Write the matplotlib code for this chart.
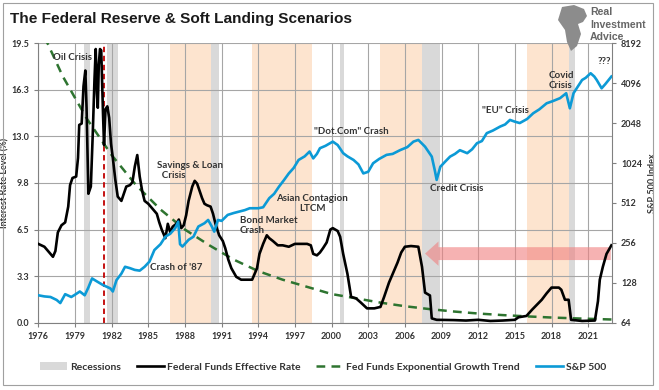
import matplotlib
matplotlib.use("Agg")
import matplotlib.pyplot as plt
from matplotlib.patches import Patch, FancyArrow, Polygon, Rectangle
from matplotlib.lines import Line2D
import numpy as np

# ---- data (x in chart years) ----
recessions = [(1979.7, 1980.2), (1981.6, 1982.5), (1990.1, 1990.8),
              (2000.7, 2001.0), (2007.4, 2008.9), (2019.4, 2019.9)]
tightening = [(1986.8, 1990.1), (1993.5, 1998.4), (2004.0, 2007.4), (2016.0, 2019.4)]

ff_years = [1976.0, 1976.5, 1976.9, 1977.2, 1977.4, 1977.6, 1977.9, 1978.2, 1978.45, 1978.6,
            1978.8, 1979.1, 1979.25, 1979.35, 1979.55, 1979.7, 1979.85, 1979.95, 1980.1, 1980.3,
            1980.45, 1980.6, 1980.7, 1980.8, 1980.87, 1980.95, 1981.05, 1981.15, 1981.3, 1981.38,
            1981.5, 1981.65, 1981.8, 1981.95, 1982.1, 1982.3, 1982.5, 1982.8, 1983.0, 1983.2,
            1983.5, 1983.7, 1983.9, 1984.1, 1984.3, 1984.5, 1984.7, 1985.0, 1985.3, 1985.7,
            1985.9, 1986.1, 1986.4, 1986.6, 1986.8, 1987.0, 1987.3, 1987.5, 1987.7, 1987.9,
            1988.1, 1988.3, 1988.6, 1988.8, 1989.0, 1989.2, 1989.4, 1989.6, 1989.8, 1990.1,
            1990.3, 1990.5, 1990.8, 1991.1, 1991.3, 1991.55, 1991.8, 1992.0, 1992.2, 1992.6,
            1993.0, 1993.5, 1993.7, 1993.9, 1994.1, 1994.4, 1994.7, 1994.9, 1995.2, 1995.6,
            1996.0, 1996.5, 1997.0, 1997.5, 1998.0, 1998.3, 1998.5, 1998.8, 1999.05, 1999.3,
            1999.6, 1999.9, 2000.1, 2000.5, 2000.7, 2000.95, 2001.3, 2001.6, 2002.0, 2002.4,
            2002.9, 2003.5, 2004.0, 2004.3, 2004.7, 2005.0, 2005.4, 2005.7, 2006.0, 2006.5,
            2007.1, 2007.4, 2007.65, 2008.05, 2008.2, 2008.6, 2010.0, 2011.0, 2012.0, 2013.0,
            2014.0, 2015.0, 2015.3, 2015.95, 2016.4, 2016.8, 2017.2, 2017.6, 2018.0, 2018.6,
            2018.8, 2019.1, 2019.4, 2019.6, 2020.5, 2021.55, 2021.8, 2021.95, 2022.2, 2022.5,
            2022.9]
ff_rate = [5.5, 5.3, 4.9, 4.6, 5.0, 6.3, 6.8, 7.0, 8.1, 9.6,
           10.1, 10.2, 11.5, 13.8, 13.9, 16.5, 17.6, 15.0, 9.0, 9.5,
           13.0, 17.0, 19.1, 16.0, 15.0, 18.0, 19.1, 19.0, 14.5, 12.4,
           14.9, 15.1, 14.3, 12.5, 11.5, 10.0, 8.8, 8.5, 9.0, 9.5,
           9.6, 9.8, 10.9, 11.7, 10.2, 9.2, 8.5, 8.3, 8.0, 7.6,
           7.0, 6.5, 5.9, 6.9, 6.3, 6.7, 6.9, 7.2, 6.6, 6.8,
           7.5, 8.5, 9.5, 9.9, 9.7, 9.2, 8.7, 8.3, 8.2, 8.1,
           7.6, 6.9, 6.1, 5.7, 5.2, 4.4, 3.8, 3.5, 3.2, 3.0,
           3.0, 3.0, 3.4, 3.8, 4.8, 5.5, 6.1, 5.9, 5.7, 5.4,
           5.4, 5.3, 5.5, 5.5, 5.5, 5.4, 4.8, 4.7, 4.9, 5.2,
           5.6, 6.5, 6.6, 6.4, 6.0, 4.8, 3.4, 1.8, 1.7, 1.4,
           1.0, 1.0, 1.1, 1.8, 2.8, 3.4, 4.2, 4.9, 5.3, 5.35,
           5.3, 3.9, 2.1, 1.9, 0.3, 0.2, 0.18, 0.15, 0.2, 0.12,
           0.15, 0.2, 0.38, 0.47, 0.9, 1.25, 1.6, 2.05, 2.45, 2.45,
           2.3, 1.6, 1.6, 0.2, 0.12, 0.15, 1.5, 3.0, 3.9, 4.8,
           5.4]

trend_years = [1976, 1978, 1980, 1982, 1984, 1986, 1988, 1990, 1992, 1994, 1996, 1998,
               2000, 2002, 2004, 2006, 2008, 2010, 2012, 2014, 2016, 2018, 2020, 2023]
trend_rate = [20.9, 17.2, 14.2, 11.7, 9.6, 7.9, 6.5, 5.4, 4.4, 3.6, 3.0, 2.5,
              2.0, 1.7, 1.4, 1.15, 0.95, 0.78, 0.64, 0.53, 0.44, 0.36, 0.30, 0.22]

spx_years = [1976.0, 1976.5, 1977.0, 1977.5, 1977.8, 1978.2, 1978.7, 1979.0, 1979.4, 1979.8,
             1980.1, 1980.4, 1980.8, 1981.3, 1981.9, 1982.1, 1982.4, 1982.8, 1983.1, 1983.5,
             1983.9, 1984.3, 1984.7, 1985.1, 1985.5, 1986.0, 1986.4, 1986.8, 1987.2, 1987.45,
             1987.6, 1987.8, 1988.3, 1988.7, 1989.1, 1989.6, 1989.9, 1990.2, 1990.4, 1990.7,
             1991.0, 1991.5, 1992.0, 1992.9, 1993.3, 1994.0, 1994.4, 1994.9, 1995.3, 1995.7,
             1996.1, 1996.5, 1996.9, 1997.3, 1997.8, 1998.2, 1998.5, 1998.8, 1999.05, 1999.5,
             2000.1, 2000.5, 2000.95, 2001.3, 2001.8, 2002.2, 2002.6, 2003.0, 2003.4, 2003.9,
             2004.5, 2005.0, 2005.6, 2006.2, 2006.7, 2007.1, 2007.65, 2008.2, 2008.45, 2008.6,
             2008.9, 2009.3, 2009.7, 2010.1, 2010.5, 2011.1, 2011.5, 2011.9, 2012.3, 2012.7,
             2013.2, 2013.8, 2014.2, 2014.6, 2015.0, 2015.4, 2016.0, 2016.5, 2017.0, 2017.6,
             2018.1, 2018.7, 2019.2, 2019.5, 2019.8, 2020.1, 2020.5, 2020.8, 2021.2, 2021.5,
             2021.7, 2022.1, 2022.4, 2022.9]
spx = [103, 101, 100, 95, 90, 105, 100, 104, 110, 103,
       118, 138, 131, 123, 116, 110, 134, 150, 169, 165,
       160, 158, 169, 185, 226, 250, 285, 300, 330, 370,
       250, 240, 270, 285, 340, 360, 381, 340, 311, 381,
       375, 416, 430, 452, 467, 467, 475, 556, 600, 680,
       760, 855, 940, 1080, 1150, 1250, 1110, 1200, 1325, 1380,
       1485, 1400, 1215, 1150, 1080, 1000, 855, 880, 1020, 1100,
       1180, 1200, 1280, 1350, 1485, 1530, 1360, 1145, 900, 764,
       960, 1050, 1145, 1200, 1280, 1215, 1300, 1445, 1500, 1720,
       1800, 1930, 2000, 2165, 2100, 2050, 2200, 2430, 2600, 2890,
       3000, 3160, 3440, 2650, 3440, 3800, 4330, 4500, 4870, 4600,
       4330, 3750, 4030, 4600]

x_ticks = list(range(1976, 2022, 3))
rate_ticks = [0, 3.25, 6.5, 9.75, 13.0, 16.25, 19.5]
rate_labels = ["0.0", "3.3", "6.5", "9.8", "13.0", "16.3", "19.5"]
spx_ticks = [64, 128, 256, 512, 1024, 2048, 4096, 8192]

notes = [("Oil Crisis", 1977.2, 18.5, "left"),
         ("Savings & Loan\n  Crisis", 1985.7, 10.6, "left"),
         ("Crash of '87", 1985.15, 3.88, "left"),
         ("Bond Market\nCrash", 1992.5, 6.8, "left"),
         ("Asian Contagion\nLTCM", 1998.4, 8.3, "center"),
         ("\"Dot.Com\" Crash", 2001.6, 13.35, "center"),
         ("Credit Crisis", 2010.2, 9.4, "center"),
         ("\"EU\" Crisis", 2014.2, 14.8, "center"),
         ("Covid\nCrisis", 2017.8, 16.9, "left"),
         ("???", 2022.3, 18.25, "center")]

txt = "#333333"
nf = "Lato"

fig = plt.figure(figsize=(6.59, 3.90), dpi=100)
fig.patch.set_facecolor("white")
fig.add_artist(Rectangle((3 / 659, 1 - 385 / 390), 650 / 659, 382 / 390, transform=fig.transFigure,
                         fill=False, edgecolor="#a0a0a0", lw=0.8))

ax = fig.add_axes([0.0581, 0.1726, 0.8706, 0.7164])
ax.set_axisbelow(True)

for a, b in recessions:
    ax.axvspan(a, b, color="#d9d9d9", lw=0, zorder=0.2)
for a, b in tightening:
    ax.axvspan(a, b, color="#fde4cf", lw=0, zorder=0.2)

ax.grid(True, color="#a6a6a6", lw=0.8)
ax.axvline(1981.4, color="#c00000", lw=1.3, ls=(0, (3, 2)), zorder=2)

ax.plot(trend_years, trend_rate, color="#2e7430", lw=1.8, ls=(0, (3.5, 2.5)), zorder=3)
ax.plot(ff_years, ff_rate, color="black", lw=1.9, zorder=4)

ax.add_patch(FancyArrow(2022.85, 4.82, -15.2, 0, width=0.9, head_width=1.7, head_length=1.1,
                        length_includes_head=True, color="#f08080", alpha=0.6, lw=0, zorder=3.5))

ax.set_xlim(1976, 2022.95)
ax.set_ylim(0, 19.5)
ax.set_xticks(x_ticks)
ax.set_xticklabels([str(y) for y in x_ticks])
ax.set_yticks(rate_ticks)
ax.set_yticklabels(rate_labels)
ax.set_ylabel("Interest Rate Level (%)", fontsize=6.5, fontweight="bold", color=txt, family=nf)
ax.yaxis.set_label_coords(-0.05, 0.5)
for s in ["top", "right"]:
    ax.spines[s].set_visible(False)
for s in ["left", "bottom"]:
    ax.spines[s].set_color("#808080")
ax.tick_params(colors="#808080", labelcolor=txt, labelsize=6.5, length=3)
for lab in ax.get_xticklabels() + ax.get_yticklabels():
    lab.set_fontweight("bold")
    lab.set_family(nf)

for s, x, y, ha in notes:
    ax.text(x, y, s, ha=ha, va="center", fontsize=7, fontweight="bold", color=txt,
            family=nf, zorder=6, linespacing=1.1)

ax2 = ax.twinx()
ax2.set_yscale("log", base=2)
ax2.plot(spx_years, spx, color="#0c9ad6", lw=1.9, zorder=5)
ax2.set_ylim(64, 8192)
ax2.set_yticks(spx_ticks)
ax2.set_yticklabels([str(v) for v in spx_ticks])
ax2.minorticks_off()
ax2.set_ylabel("S&P 500 Index", fontsize=6.5, fontweight="bold", color=txt, family=nf)
ax2.yaxis.set_label_coords(1.062, 0.5)
ax2.spines["top"].set_visible(False)
ax2.spines["left"].set_visible(False)
ax2.spines["bottom"].set_visible(False)
ax2.spines["right"].set_color("#808080")
ax2.tick_params(colors="#808080", labelcolor=txt, labelsize=6.5, length=3)
for lab in ax2.get_yticklabels():
    lab.set_fontweight("bold")
    lab.set_family(nf)

fig.text(10 / 659, 1 - 19 / 390, "The Federal Reserve & Soft Landing Scenarios", fontsize=11.1,
         fontweight="bold", family="Liberation Sans", color="#1a1a1a", va="center", ha="left")

# logo
eagle = [(562, 7), (574, 5), (584, 9), (587, 16), (583, 22), (578, 24), (581, 34),
         (577, 46), (571, 51), (567, 42), (565, 30), (558, 20)]
fig.add_artist(Polygon([(x / 659, 1 - y / 390) for x, y in eagle], closed=True,
                       transform=fig.transFigure, facecolor="#8c8c8c", edgecolor="none"))
for i, w in enumerate(["Real", "Investment", "Advice"]):
    fig.text(590 / 659, 1 - (12 + 12.5 * i) / 390, w, fontsize=7.6, fontweight="bold",
             family="Liberation Sans", color="#666666", va="center", ha="left")

handles = [Patch(facecolor="#d9d9d9", edgecolor="none"),
           Line2D([], [], color="black", lw=1.9),
           Line2D([], [], color="#2e7430", lw=1.8, ls=(0, (3.5, 2.5))),
           Line2D([], [], color="#0c9ad6", lw=1.9)]
labels = ["Recessions", "Federal Funds Effective Rate", "Fed Funds Exponential Growth Trend", "S&P 500"]
leg = fig.legend(handles, labels, loc="center", bbox_to_anchor=(0.49, 1 - 367 / 390), ncol=4,
                 frameon=False, handlelength=2.6, handletextpad=0.3, columnspacing=1.5,
                 prop={"family": nf, "weight": "bold", "size": 7.5})
for t in leg.get_texts():
    t.set_color(txt)

fig.savefig("out.png", dpi=100)
